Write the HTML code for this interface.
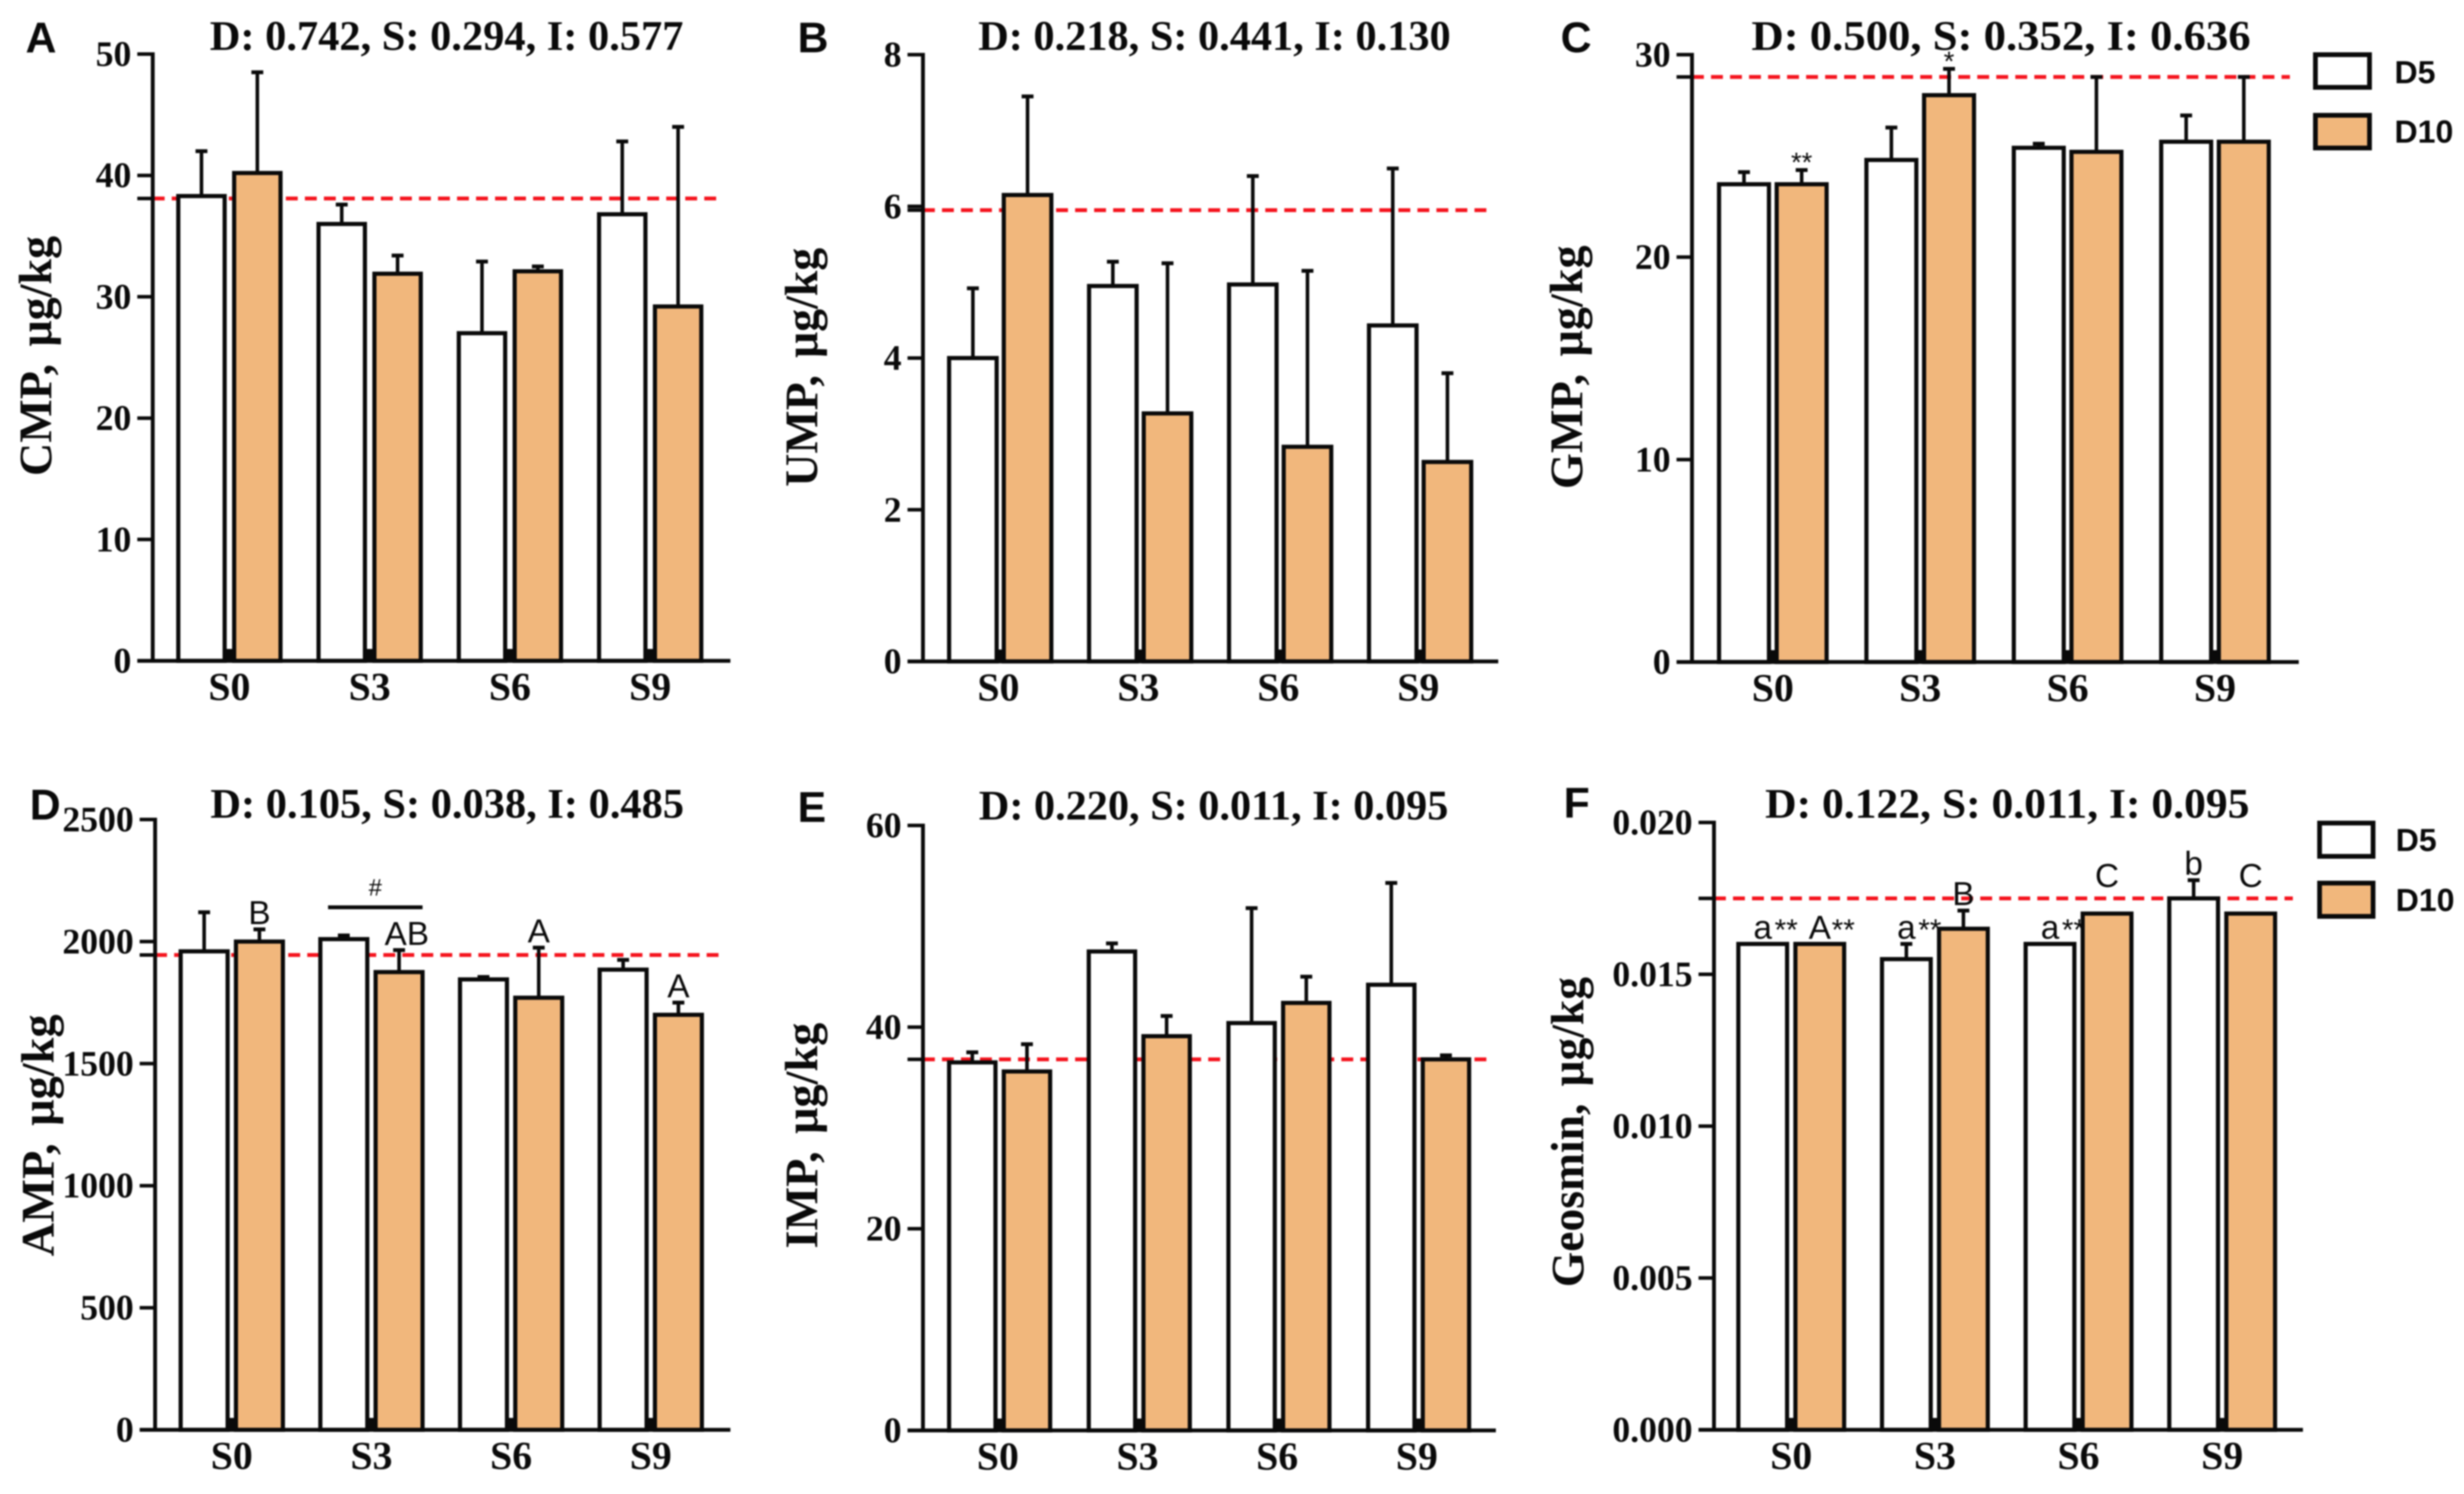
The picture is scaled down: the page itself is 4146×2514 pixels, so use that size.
<!DOCTYPE html>
<html lang="en">
<head>
<meta charset="utf-8">
<title>Nucleotide and geosmin content bar charts</title>
<style>
html,body{margin:0;padding:0;background:#fff;}
#figure{display:block;width:4146px;height:2514px;background:#fff;filter:blur(1.3px);}
.serif{font-family:"Liberation Serif",serif;font-weight:700;fill:#0a0a0a;word-spacing:10px;}
.sans{font-family:"Liberation Sans",sans-serif;fill:#0a0a0a;}
</style>
</head>
<body>
<svg id="figure" xmlns="http://www.w3.org/2000/svg" width="4146" height="2514" viewBox="0 0 4146 2514"></svg>
<script>
// ---------- data ----------
const categories = ['S0', 'S3', 'S6', 'S9'];
const seriesNames = ['D5', 'D10'];

const cmpD5 = [38.3, 36.0, 27.0, 36.8];
const cmpD10 = [40.2, 31.9, 32.1, 29.2];
const cmpTopD5 = [42.0, 37.6, 32.9, 42.8];
const cmpTopD10 = [48.5, 33.4, 32.5, 44.0];
const cmpTicks = [0, 10, 20, 30, 40, 50];
const cmpRef = 38.1;

const umpD5 = [4.0, 4.95, 4.97, 4.43];
const umpD10 = [6.15, 3.27, 2.83, 2.63];
const umpTopD5 = [4.92, 5.27, 6.4, 6.5];
const umpTopD10 = [7.45, 5.25, 5.15, 3.8];
const umpTicks = [0, 2, 4, 6, 8];
const umpRef = 5.95;

const gmpD5 = [23.6, 24.8, 25.4, 25.7];
const gmpD10 = [23.6, 28.0, 25.2, 25.7];
const gmpTopD5 = [24.2, 26.4, 25.6, 27.0];
const gmpTopD10 = [24.3, 29.3, 28.9, 28.9];
const gmpTicks = [0, 10, 20, 30];
const gmpRef = 28.9;

const ampD5 = [1960, 2010, 1845, 1885];
const ampD10 = [2000, 1875, 1770, 1700];
const ampTopD5 = [2120, 2025, 1855, 1925];
const ampTopD10 = [2050, 1965, 1975, 1750];
const ampTicks = [0, 500, 1000, 1500, 2000, 2500];
const ampRef = 1945;

const impD5 = [36.5, 47.5, 40.4, 44.2];
const impD10 = [35.6, 39.1, 42.4, 36.8];
const impTopD5 = [37.5, 48.3, 51.8, 54.3];
const impTopD10 = [38.3, 41.1, 45.0, 37.2];
const impTicks = [0, 20, 40, 60];
const impRef = 36.8;

const geoD5 = [0.016, 0.0155, 0.016, 0.0175];
const geoD10 = [0.016, 0.0165, 0.017, 0.017];
const geoTopD5 = [0.016, 0.016, 0.016, 0.0181];
const geoTopD10 = [0.016, 0.0171, 0.017, 0.017];
const geoTicks = ['0.000', '0.005', '0.010', '0.015', '0.020'];
const geoRef = 0.0175;

// significance letters and the value level each one sits above
const gmpMarksD10 = ['**', '*', '', ''];
const gmpMarkLevelsD10 = [23.95, 28.95, 0, 0];
const ampMarksD10 = ['B', 'AB', 'A', 'A'];
const ampMarkLevelsD10 = [2050, 1965, 1975, 1750];
const geoMarksD5 = ['a**', 'a**', 'a**', 'b'];
const geoMarkLevelsD5 = [0.016, 0.016, 0.016, 0.0181];
const geoMarksD10 = ['A**', 'B', 'C', 'C'];
const geoMarkLevelsD10 = [0.016, 0.0171, 0.0177, 0.0177];

// ---------- panel definitions ----------
const panels = [
  {id:'a', letter:'A', lx:43, ly:88, title:'D: 0.742, S: 0.294, I: 0.577', tx:353, tw:797, ty:84, ylabel:'CMP, μg/kg', ybx:86, yby:801, yl:404,
   ax:257, top:91, y0:1112, xEnd:1229, g0:386, dg:236, off:47, bw:78, refEnd:1212,
   d5:cmpD5, d10:cmpD10, t5:cmpTopD5, t10:cmpTopD10, ticks:cmpTicks, ref:cmpRef},
  {id:'b', letter:'B', lx:1342, ly:88, title:'D: 0.218, S: 0.441, I: 0.130', tx:1646, tw:795, ty:84, ylabel:'UMP, μg/kg', ybx:1375, yby:819, yl:402,
   ax:1553, top:92, y0:1113, xEnd:2521, g0:1683, dg:235.5, off:46, bw:80, refEnd:2505,
   d5:umpD5, d10:umpD10, t5:umpTopD5, t10:umpTopD10, ticks:umpTicks, ref:umpRef},
  {id:'c', letter:'C', lx:2626, ly:88, title:'D: 0.500, S: 0.352, I: 0.636', tx:2947, tw:840, ty:84, ylabel:'GMP, μg/kg', ybx:2662, yby:823, yl:410,
   ax:2847, top:92, y0:1114, xEnd:3868, g0:2983, dg:248, off:48.5, bw:84, refEnd:3853,
   d5:gmpD5, d10:gmpD10, t5:gmpTopD5, t10:gmpTopD10, ticks:gmpTicks, ref:gmpRef,
   marks10:gmpMarksD10, levels10:gmpMarkLevelsD10},
  {id:'d', letter:'D', lx:50, ly:1379, title:'D: 0.105, S: 0.038, I: 0.485', tx:354, tw:797, ty:1376, ylabel:'AMP, μg/kg', ybx:90, yby:2114, yl:407,
   ax:261, top:1379, y0:2406, xEnd:1229, g0:390, dg:235, off:46.5, bw:79, refEnd:1214,
   d5:ampD5, d10:ampD10, t5:ampTopD5, t10:ampTopD10, ticks:ampTicks, ref:ampRef,
   marks10:ampMarksD10, levels10:ampMarkLevelsD10, bracket:true},
  {id:'e', letter:'E', lx:1342, ly:1383, title:'D: 0.220, S: 0.011, I: 0.095', tx:1647, tw:790, ty:1379, ylabel:'IMP, μg/kg', ybx:1375, yby:2101, yl:380,
   ax:1553, top:1389, y0:2407, xEnd:2517, g0:1682, dg:235, off:46, bw:78, refEnd:2503,
   d5:impD5, d10:impD10, t5:impTopD5, t10:impTopD10, ticks:impTicks, ref:impRef},
  {id:'f', letter:'F', lx:2631, ly:1376, title:'D: 0.122, S: 0.011, I: 0.095', tx:2970, tw:815, ty:1376, ylabel:'Geosmin, μg/kg', ybx:2664, yby:2166, yl:522,
   ax:2884, top:1384, y0:2406, xEnd:3875, g0:3014, dg:241.7, off:48, bw:82, refEnd:3858,
   d5:geoD5, d10:geoD10, t5:geoTopD5, t10:geoTopD10, ticks:geoTicks, ref:geoRef,
   marks5:geoMarksD5, levels5:geoMarkLevelsD5, marks10:geoMarksD10, levels10:geoMarkLevelsD10}
];

const legends = [
  {id:'top', x:3892, w:99, y1:88, y2:190, h:63, tx:4029, b1:140, b2:240},
  {id:'bottom', x:3899, w:98, y1:1381, y2:1482, h:64, tx:4031, b1:1432, b2:1533}
];

const INK = '#0a0a0a';
const ORANGE = '#F1B77C';
const svg = document.getElementById('figure');

function make(parent, tag, attrs, text) {
  const el = document.createElementNS('http://www.w3.org/2000/svg', tag);
  for (const k in attrs) el.setAttribute(k, attrs[k]);
  if (text !== undefined) el.textContent = text;
  parent.appendChild(el);
  return el;
}

function drawMark(g, p, label, level, barX, yOf, seriesName, i) {
  if (!label) return;
  const letter = label.replace(/\*/g, '');
  const stars = label.slice(letter.length);
  const y = yOf(level) - 9;
  if (letter) {
    const nudge = letter.length > 1 ? 13 : 0;
    const t = make(g, 'text', {x: barX + nudge, y: y, 'text-anchor': 'middle', 'font-size': 56, class: 'sans'}, letter);
    
    
  }
  if (stars) {
    const sx = letter ? barX + 20 : barX;
    const s = make(g, 'text', {x: sx, y: letter ? y + 2 : y, 'text-anchor': letter ? 'start' : 'middle', 'font-size': letter ? 50 : 46, class: 'sans'}, stars);
    
    
  }
}

function drawPanel(p) {
  const g = make(svg, 'g', {});
  
  

  const maxV = Number(p.ticks[p.ticks.length - 1]);
  const yOf = v => p.y0 - (Number(v) / maxV) * (p.y0 - p.top);
  const groupX = i => p.g0 + i * p.dg;

  const letter = make(g, 'text', {x: p.lx, y: p.ly, 'font-size': 72, 'font-weight': 700, class: 'sans'}, p.letter);
  
  

  const title = make(g, 'text', {x: p.tx, y: p.ty, 'font-size': 71, class: 'serif', style: 'word-spacing:0', textLength: p.tw, lengthAdjust: 'spacingAndGlyphs'}, p.title);
  
  

  const yTitle = make(g, 'text', {transform: 'translate(' + p.ybx + ',' + p.yby + ') rotate(-90)', 'font-size': 78, class: 'serif', textLength: p.yl, lengthAdjust: 'spacingAndGlyphs'}, p.ylabel);
  
  

  // reference line sits behind the bars
  const refY = yOf(p.ref);
  const ref = make(g, 'line', {x1: p.ax, x2: p.refEnd, y1: refY, y2: refY, stroke: '#f5141e', 'stroke-width': 6.5, 'stroke-dasharray': '20 12'});
  
  
  const refTick = make(g, 'line', {x1: p.ax - 26, x2: p.ax, y1: refY, y2: refY, stroke: INK, 'stroke-width': 6});
  
  

  categories.forEach((cat, i) => {
    const cx = groupX(i);
    seriesNames.forEach((name, s) => {
      const isD5 = s === 0;
      const v = isD5 ? p.d5[i] : p.d10[i];
      const top = isD5 ? p.t5[i] : p.t10[i];
      const bx = cx + (isD5 ? -p.off : p.off);

      const err = make(g, 'line', {x1: bx, x2: bx, y1: yOf(v), y2: yOf(top), stroke: INK, 'stroke-width': 6});
      
      
      const cap = make(g, 'line', {x1: bx - 10, x2: bx + 10, y1: yOf(top), y2: yOf(top), stroke: INK, 'stroke-width': 6.5});
      
      

      const bar = make(g, 'rect', {x: bx - p.bw / 2, y: yOf(v), width: p.bw, height: p.y0 - yOf(v), fill: isD5 ? '#fff' : ORANGE, stroke: INK, 'stroke-width': 7});
      
      

      const marks = isD5 ? p.marks5 : p.marks10;
      const levels = isD5 ? p.levels5 : p.levels10;
      if (marks) drawMark(g, p, marks[i], levels[i], bx, yOf, name, i);
    });

    const stub = make(g, 'rect', {x: cx - 7, y: p.y0 - 20, width: 12, height: 20, fill: INK});
    
    

    const lab = make(g, 'text', {x: cx - (p.id === 'b' || p.id === 'e' ? 3 : 0), y: p.y0 + 66, 'text-anchor': 'middle', 'font-size': 67, class: 'serif'}, cat);
    
    
  });

  const yAxis = make(g, 'line', {x1: p.ax, x2: p.ax, y1: p.top - 3, y2: p.y0 + 3, stroke: INK, 'stroke-width': 6.5});
  
  
  const xAxis = make(g, 'line', {x1: p.ax - 26, x2: p.xEnd, y1: p.y0, y2: p.y0, stroke: INK, 'stroke-width': 6.5});
  
  

  p.ticks.forEach(tv => {
    const y = yOf(tv);
    const tick = make(g, 'line', {x1: p.ax - 26, x2: p.ax, y1: y, y2: y, stroke: INK, 'stroke-width': 6});
    
    
    const lab = make(g, 'text', {x: p.ax - 36, y: y + 20, 'text-anchor': 'end', 'font-size': 60, class: 'serif'}, String(tv));
    
    
  });

  if (p.bracket) {
    const bx1 = groupX(1) - p.off - p.bw / 2 + 13;
    const bx2 = groupX(1) + p.off + p.bw / 2;
    const by = yOf(p.levels10[1]) - 72;
    const line = make(g, 'line', {x1: bx1, x2: bx2, y1: by, y2: by, stroke: INK, 'stroke-width': 6.5});
    
    
    const hash = make(g, 'text', {x: (bx1 + bx2) / 2, y: by - 20, 'text-anchor': 'middle', 'font-size': 40, class: 'sans'}, '#');
    
    
  }
}

function drawLegend(l) {
  const g = make(svg, 'g', {});
  
  
  seriesNames.forEach((name, s) => {
    const y = s === 0 ? l.y1 : l.y2;
    const b = s === 0 ? l.b1 : l.b2;
    const swatch = make(g, 'rect', {x: l.x + 4, y: y + 4, width: l.w - 8, height: l.h - 8, fill: s === 0 ? '#fff' : ORANGE, stroke: INK, 'stroke-width': 8});
    
    
    const t = make(g, 'text', {x: l.tx, y: b, 'font-size': 54, 'font-weight': 700, class: 'sans'}, name);
    
    
  });
}

panels.forEach(drawPanel);
legends.forEach(drawLegend);
</script>
</body>
</html>
